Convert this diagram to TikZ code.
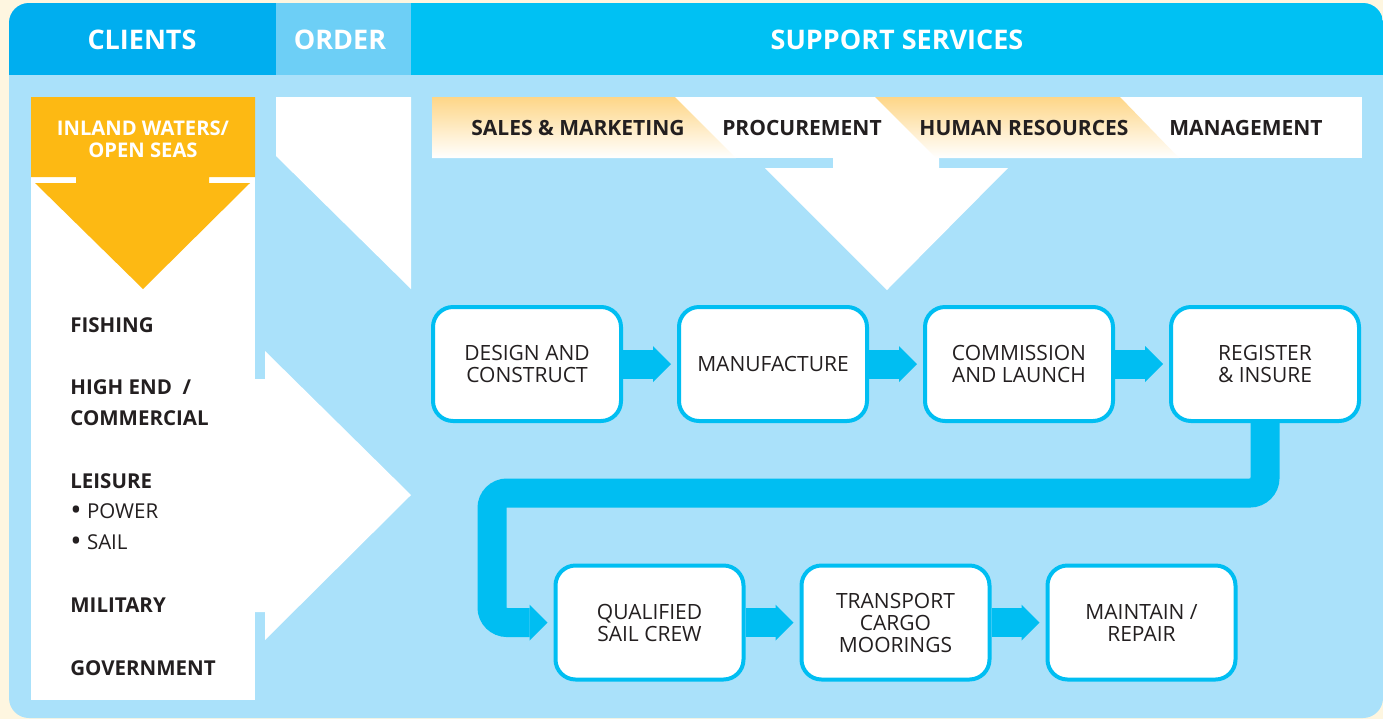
\documentclass[tikz,border=0pt]{standalone}
\usepackage{fontspec}
\setmainfont{Open Sans}
\usetikzlibrary{arrows.meta,positioning}

\definecolor{cream}{RGB}{254,246,224}
\definecolor{panelblue}{RGB}{170,225,250}
\definecolor{clientblue}{RGB}{0,174,239}
\definecolor{orderblue}{RGB}{109,207,246}
\definecolor{supportblue}{RGB}{0,193,243}
\definecolor{flowcyan}{RGB}{0,190,242}
\definecolor{seaorange}{RGB}{253,185,19}
\definecolor{bannerorange}{RGB}{254,214,135}
\definecolor{inkdark}{RGB}{35,31,32}

\newcommand{\bigdot}{\raisebox{-0.6pt}{\fontsize{15}{15}\selectfont\textbullet}\ }

\begin{document}
\begin{tikzpicture}[x=0.5pt, y=-0.5pt,
		header/.style={text=white, font=\fontsize{13.5}{14}\selectfont\bfseries},
		service/.style={text=inkdark, font=\fontsize{10.5}{11}\selectfont\bfseries},
		market/.style={anchor=west, inner sep=0pt, text=inkdark, font=\fontsize{10.25}{11}\selectfont\bfseries},
		stage/.style={draw=flowcyan, line width=2pt, fill=white, rounded corners=10pt, minimum width=94pt, minimum height=57pt, inner sep=0pt, align=center, text=inkdark, font=\fontsize{10.5}{11}\selectfont},
		flow/.style={draw=flowcyan, line width=14.5pt, -{Triangle[width=18pt, length=9pt, line width=0pt]}, shorten >=3pt}]
	\useasboundingbox (0,0) rectangle (1383,719);
	\fill[cream] (0,0) rectangle (1383,719);
	\fill[panelblue, rounded corners=10pt] (9,3) rectangle (1383,718);
	%header bar
	\begin{scope}
		\clip[rounded corners=10pt] (9,3) rectangle (1383,718);
		\fill[clientblue] (9,3) rectangle (276,75);
		\fill[orderblue] (276,3) rectangle (411,75);
		\fill[supportblue] (411,3) rectangle (1383,75);
	\end{scope}
	\node[header] (clients) at (142,40) {CLIENTS};
	\node[header] (order) at (340,40) {ORDER};
	\node[header] (support) at (897,40) {SUPPORT SERVICES};
	
	%clients column
	\fill[white] (31,97) rectangle (255,700);
	\fill[seaorange] (31,97) -- (255,97) -- (255,177) -- (209,177) -- (209,183) -- (250,183) -- (143,289)
		-- (35,183) -- (76,183) -- (76,177) -- (31,177) -- cycle;
	\node[align=center, text=white, font=\fontsize{10.1}{11}\selectfont\bfseries] (waters) at (143,139) {INLAND WATERS/\\OPEN SEAS};
	\node[market] (fishing) at (70,325) {FISHING};
	\node[market] (highend) at (70,387) {HIGH END~~/};
	\node[market] (commercial) at (70,418) {COMMERCIAL};
	\node[market] (leisure) at (70,481) {LEISURE};
	\node[market, font=\fontsize{10.25}{11}\selectfont] (power) at (70,512) {\bigdot POWER};
	\node[market, font=\fontsize{10.25}{11}\selectfont] (sail) at (70,543) {\bigdot SAIL};
	\node[market] (military) at (70,605) {MILITARY};
	\node[market] (government) at (70,668) {GOVERNMENT};
	
	%order arrows
	\fill[white] (276,97) -- (411,97) -- (411,289) -- (276,156) -- cycle;
	\fill[white] (255,379) -- (265,379) -- (265,351) -- (411,495) -- (265,640) -- (265,612) -- (255,612) -- cycle;
	
	%support services banner
	\fill[white] (432,97) rectangle (1362,158);
	\shade[top color=bannerorange, bottom color=white] (432,97) -- (675,97) -- (736,158) -- (432,158) -- cycle;
	\shade[top color=bannerorange, bottom color=white] (875,97) -- (1120,97) -- (1179,158) -- (936,158) -- cycle;
	\node[service] (sales) at (578,128) {SALES \& MARKETING};
	\node[service] (procurement) at (802,128) {PROCUREMENT};
	\node[service] (resources) at (1024,128) {HUMAN RESOURCES};
	\node[service] (management) at (1246,128) {MANAGEMENT};
	\fill[white] (833,158) -- (939,158) -- (939,168) -- (1008,168) -- (887,290) -- (765,168) -- (833,168) -- cycle;
	
	%process chain
	\node[stage] (design) at (527,364) {DESIGN AND\\CONSTRUCT};
	\node[stage, right=27pt of design] (manufacture) {MANUFACTURE};
	\node[stage, right=27pt of manufacture] (commission) {COMMISSION\\AND LAUNCH};
	\node[stage, right=27pt of commission] (register) {REGISTER\\\& INSURE};
	\node[stage] (crew) at (649.5,622.5) {QUALIFIED\\SAIL CREW};
	\node[stage, right=27pt of crew] (transport) {TRANSPORT\\CARGO\\MOORINGS};
	\node[stage, right=27pt of transport] (repair) {MAINTAIN /\\REPAIR};
	\coordinate (turn) at (492,493);
	\draw[flow] (design) -- (manufacture);
	\draw[flow] (manufacture) -- (commission);
	\draw[flow] (commission) -- (register);
	\draw[flow, rounded corners=7.5pt] (register.south) |- (turn) |- (crew.west);
	\draw[flow] (crew) -- (transport);
	\draw[flow] (transport) -- (repair);
\end{tikzpicture}
\end{document}
